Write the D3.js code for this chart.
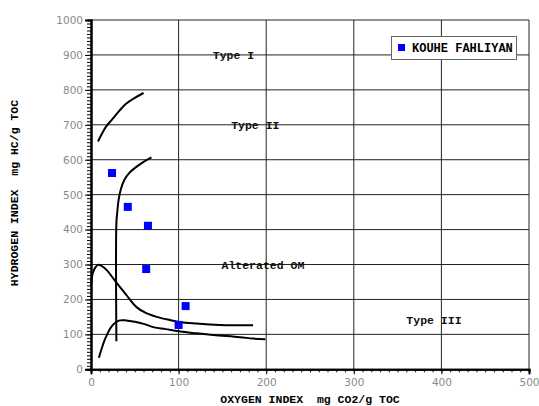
<!DOCTYPE html>
<html><head><meta charset="utf-8">
<script src="https://cdn.jsdelivr.net/npm/d3@7"></script>
<style>body{margin:0;background:#fff}svg{display:block}text{white-space:pre}</style>
</head><body>
<svg id="c" width="539" height="406"></svg>
<script>
const xTicks = [0,100,200,300,400,500];
const yTicks = [0,100,200,300,400,500,600,700,800,900,1000];
const seriesName = "KOUHE FAHLIYAN";
const oxygenIndex = [24, 42, 65, 63, 108, 100];
const hydrogenIndex = [562, 465, 411, 287, 181, 127];
const typeICurve = [[8,652],[12,672],[17,694],[24,715],[32,739],[40,760],[50,777],[60,791]];
const typeIICurve = [[29,80],[29,420],[30,450],[31.5,485],[34,515],[38,542],[44,563],[51,578],[60,594],[69,607]];
const upperCurve = [[0,240],[2,275],[5,292],[8,299],[12,296],[18,284],[24,265],[30,245],[40,214],[52,178],[62,162],[75,150],[90,141],[102,135],[120,131],[147,127],[185,126]];
const lowerCurve = [[9,33],[12,58],[15,80],[19,103],[23,121],[28,134],[33,140],[40,140],[50,136],[60,130],[72,120],[85,115],[102,108],[120,103],[140,98],[170,92],[185,88],[199,86]];
const regionLabels = ["Type I","Type II","Alterated OM","Type III"];
const regionX = [139,160,149,360];
const regionY = [900,700,299,141];

const svg = d3.select("#c");
const x = d3.scaleLinear().domain([0,500]).range([91,529]);
const y = d3.scaleLinear().domain([0,1000]).range([369.3,20]);

// grid
const g = svg.append("g");
g.selectAll(".hg").data(yTicks.slice(1)).join("line")
  .attr("x1",x(0)).attr("x2",x(500)).attr("y1",d=>y(d)).attr("y2",d=>y(d))
  .attr("stroke","#222").attr("stroke-width",1);
g.selectAll(".vg").data(xTicks.slice(1)).join("line")
  .attr("y1",y(0)).attr("y2",y(1000)).attr("x1",d=>x(d)).attr("x2",d=>x(d))
  .attr("stroke","#222").attr("stroke-width",1);

// axes
const font = "'DejaVu Sans', Verdana, sans-serif";
const xAxis = svg.append("g").attr("transform",`translate(0,${y(0)})`)
  .call(d3.axisBottom(x).tickValues(d3.range(0,501,10)).tickSize(3).tickFormat(""));
const xMaj = svg.append("g").attr("transform",`translate(0,${y(0)})`)
  .call(d3.axisBottom(x).tickValues(xTicks).tickSize(5).tickPadding(4).tickFormat(d3.format("d")));
const yAxis = svg.append("g").attr("transform",`translate(${x(0)},0)`)
  .call(d3.axisLeft(y).tickValues(d3.range(0,1001,10)).tickSize(4).tickFormat(""));
const yMaj = svg.append("g").attr("transform",`translate(${x(0)},0)`)
  .call(d3.axisLeft(y).tickValues(yTicks).tickSize(6).tickPadding(2).tickFormat(d3.format("d")));
[xAxis,xMaj,yAxis,yMaj].forEach(a=>{
  a.select(".domain").attr("stroke","#000").attr("stroke-width",2);
  a.selectAll(".tick line").attr("stroke","#000");
  a.selectAll(".tick text").attr("fill","#8a8a8a").attr("font-family",font).attr("font-size","10.5px");
});

// curves
const line = d3.line().x(d=>x(d[0])).y(d=>y(d[1])).curve(d3.curveCatmullRom.alpha(0.5));
[typeICurve,typeIICurve,upperCurve,lowerCurve].forEach(c=>{
  svg.append("path").attr("d",line(c)).attr("fill","none").attr("stroke","#000").attr("stroke-width",2);
});

// points
svg.selectAll(".pt").data(oxygenIndex).join("rect")
  .attr("x",(d,i)=>x(d)-4).attr("y",(d,i)=>y(hydrogenIndex[i])-4)
  .attr("width",8).attr("height",8).attr("fill","#0000ff");

// region labels
const mono = "'Liberation Mono', 'Courier New', monospace";
svg.selectAll(".rl").data(regionLabels).join("text")
  .attr("x",(d,i)=>x(regionX[i])).attr("y",(d,i)=>y(regionY[i])+4)
  .attr("font-family",mono).attr("font-size","11.5px").attr("font-weight","bold")
  .attr("fill","#111").text(d=>d);

// axis titles
svg.append("text").attr("x",310).attr("y",403).attr("text-anchor","middle")
  .attr("font-family",mono).attr("font-size","11.5px").attr("font-weight","bold")
  .text("OXYGEN INDEX  mg CO2/g TOC");
svg.append("text").attr("transform","translate(17.5,193) rotate(-90)").attr("text-anchor","middle")
  .attr("font-family",mono).attr("font-size","11.5px").attr("font-weight","bold")
  .text("HYDROGEN INDEX  mg HC/g TOC");

// legend
const lg = svg.append("g");
lg.append("rect").attr("x",391.5).attr("y",36.5).attr("width",125).attr("height",23)
  .attr("fill","#fff").attr("stroke","#666").attr("stroke-width",1);
lg.append("rect").attr("x",398).attr("y",44).attr("width",7).attr("height",7).attr("fill","#0000ff");
lg.append("text").attr("x",412).attr("y",51.5).attr("font-family",mono).attr("font-size","12px")
  .attr("font-weight","bold").text(seriesName);
</script>
</body></html>
